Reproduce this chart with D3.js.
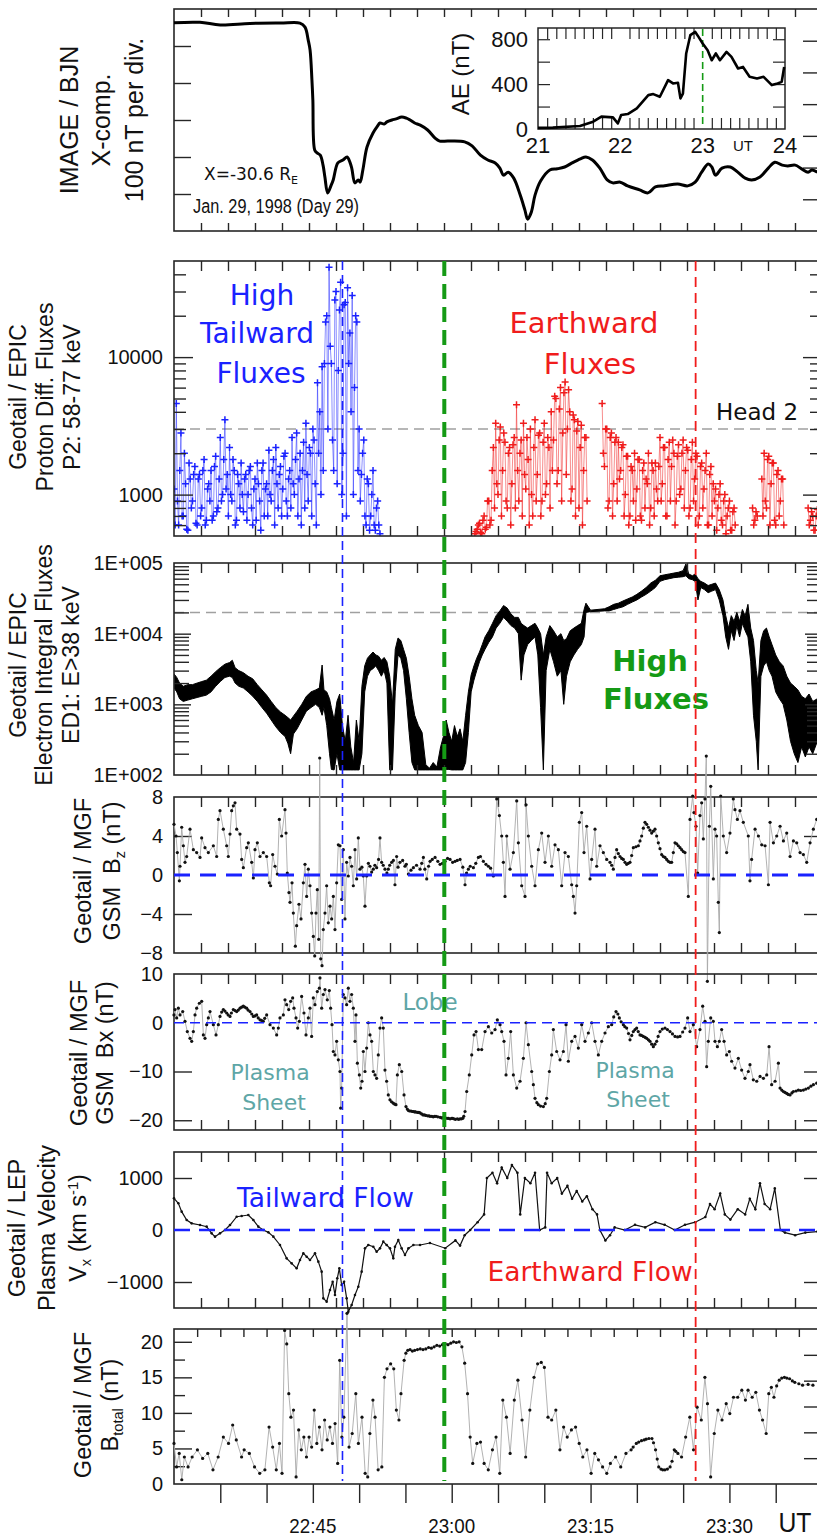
<!DOCTYPE html>
<html>
<head>
<meta charset="utf-8">
<script src="https://cdn.jsdelivr.net/npm/d3@7/dist/d3.min.js"></script>
<style>
  body { margin: 0; background: #fff; }
  svg { display: block; background: #fff; }
</style>
</head>
<body>
<svg id="fig" width="817" height="1538"></svg>
<script>
// ---------------- time axis (minutes after 22:30 UT, 29 Jan 1998) ----------------
const timeDomain = [0, 70];
const timeLabelMinutes = [15, 30, 45, 60];
const timeLabels = ["22:45", "23:00", "23:15", "23:30"];
const eventTimes = [18.2, 29.2, 56.35];   // tailward / lobe / earthward markers

// ---------------- IMAGE / BJN X component (nT, relative) ----------------
const bjnX = [[0,-37],[2.8,-36],[5.0,-43],[8.2,-39],[11.5,-38],[13.6,-38],[14.15,-49],[14.5,-84],[14.7,-111],[14.9,-192],[15.0,-246],[15.2,-381],[15.45,-389],[15.8,-395],[16.1,-422],[16.3,-454],[16.6,-497],[16.95,-478],[17.2,-462],[17.7,-416],[18.25,-408],[18.7,-400],[19.0,-414],[19.2,-430],[19.55,-470],[19.9,-462],[20.1,-468],[20.4,-435],[20.85,-373],[21.5,-335],[22.0,-316],[22.25,-308],[22.7,-311],[23.0,-305],[23.55,-300],[24.0,-297],[24.6,-292],[25.1,-295],[25.5,-300],[26.0,-308],[26.6,-314],[27.4,-327],[28.2,-349],[28.7,-357],[29.6,-357],[31.4,-359],[32.2,-370],[33.1,-395],[33.9,-408],[34.7,-416],[35.2,-430],[35.6,-449],[36.1,-441],[36.7,-457],[37.4,-503],[37.9,-543],[38.2,-568],[38.6,-549],[39.0,-503],[39.6,-465],[40.6,-435],[41.4,-432],[42.2,-427],[43.0,-416],[43.9,-405],[44.5,-400],[45.2,-408],[46.0,-430],[46.8,-462],[47.4,-470],[48.2,-468],[49.0,-478],[50.3,-489],[51.2,-497],[52.0,-481],[53.0,-478],[54.4,-473],[55.5,-478],[56.3,-468],[57.0,-441],[57.7,-419],[58.1,-427],[58.5,-449],[59.2,-430],[60.1,-427],[60.9,-441],[61.7,-457],[62.4,-462],[63.3,-454],[64.2,-430],[64.9,-414],[65.7,-422],[66.3,-424],[67.1,-422],[67.8,-432],[68.5,-441],[68.9,-435],[69.5,-441]];

// ---------------- AE index (hour UT, nT) ----------------
const aeIndex = [[21.0,10],[21.18,12],[21.51,27],[21.67,65],[21.77,110],[21.91,104],[21.97,50],[22.01,124],[22.09,133],[22.20,184],[22.34,302],[22.40,311],[22.48,287],[22.58,436],[22.64,406],[22.70,412],[22.73,273],[22.76,316],[22.80,673],[22.85,836],[22.91,865],[22.95,821],[23.00,762],[23.06,702],[23.11,613],[23.16,673],[23.21,613],[23.29,687],[23.35,643],[23.43,539],[23.49,553],[23.57,465],[23.66,450],[23.74,465],[23.84,391],[23.91,406],[23.96,420],[23.99,553]];
const aeTicks = [0, 400, 800];
const aeHourLabels = [21, 22, 23, 24];

// ---------------- EPIC P2 proton fluxes, 7.5-s samples ----------------
const p2TailwardStart = 0;
const p2EarthwardStart = 32.5;
const p2Step = 0.125;
const p2Tailward = [
  1100,600,4600,900,600,1500,2800,700,700,2000,1200,560,550,1700,1300,800,
  900,1400,1600,620,600,1300,1400,700,800,1500,1800,600,650,1100,1200,900,
  1500,650,700,1600,1900,750,800,1300,2600,900,1000,1800,3500,1100,1400,700,
  2200,1000,900,1800,1500,600,650,1400,1200,800,1700,1000,750,1300,1400,650,
  1000,1500,1600,800,600,1100,1300,650,1700,1200,900,550,1500,1700,700,1100,
  1200,700,2100,1000,900,1500,1800,600,2200,1200,800,1400,1600,700,1100,1900,
  2000,900,700,1300,1500,800,2600,1200,1000,1800,2800,700,1300,2000,600,1500,
  2400,800,3300,1400,900,2200,2000,700,3000,2500,1200,600,6500,2000,4000,1000,
  8500,1500,9000,18000,20000,3000,45000,12000,9000,2500,1500,26000,30000,1200,8000,22000,
  35000,1000,2000,24000,25000,700,32000,9000,15000,4000,28000,1000,6000,20000,18000,1500,
  3000,900,1400,2000,2500,700,600,1300,1200,550,700,1000,1500,600,550,800,
  900,600,520];
const p2Earthward = [
  520,540,560,600,620,530,520,650,700,560,580,900,900,600,650,1500,
  2200,800,3300,1200,1000,2500,3100,700,1500,2800,2400,900,800,2000,2200,600,
  1200,2300,2600,800,4500,1500,900,2000,2500,700,3300,1400,1100,2600,1800,600,
  3000,1000,700,2200,3500,900,1400,2700,2800,700,900,2400,3300,1000,1200,2600,
  2200,800,4000,1500,2500,5200,5000,1200,1500,4200,6000,900,2800,5500,6600,1400,
  3000,5800,4000,900,1100,3800,3500,700,2900,3400,800,2200,3200,600,1500,2600,
  2600,900,null,null,null,null,null,null,null,null,null,null,null,null,4600,2000,
  1600,3000,3000,800,900,2600,2800,700,1200,2400,2600,900,2400,1300,1500,2200,
  2300,700,1000,1900,1900,600,700,1600,1500,900,2000,650,1100,1800,1800,700,
  650,1500,1700,800,1300,1200,2000,600,800,1700,1500,700,1700,1100,900,1600,
  2600,900,1200,2200,2200,700,700,1800,2400,900,1600,2500,2000,600,900,1900,
  2300,1000,1100,2000,2500,800,1500,2200,2100,700,800,1800,2400,900,1300,2000,
  1900,600,700,1600,1700,800,1100,1500,2000,600,600,1400,1600,700,1200,900,
  1100,550,800,1000,1200,650,600,900,1000,520,700,800,900,550,550,750,
  800,600,null,null,null,null,null,null,null,null,null,null,null,null,null,null,
  800,600,650,750,700,null,null,null,1300,700,2000,900,800,1800,1900,600,
  1200,1700,1700,650,600,1400,1500,700,900,1300,1300,600,null,null,null,null,
  null,null,null,null,null,null,null,null,null,null,null,null,null,null,null,null,
  800,600,650,750,700,550,550,700,780];
const p2Head2Level = 3000;
const p2MajorTicks = [1000, 10000];
const p2MinorTicks = [600,700,800,900,2000,3000,4000,5000,6000,7000,8000,9000,20000,30000,40000];

// ---------------- EPIC ED1 electron integral flux: [t, min, max] ----------------
const ed1Range = [[0,1700,2700],[0.3,1500,2400],[0.6,1200,2000],[1.0,1100,1800],[1.5,1150,1900],[2.0,1200,1900],[2.5,1250,2000],[3.0,1300,2100],[3.5,1350,2200],[4.0,1500,2500],[4.5,1800,2900],[5.0,2100,3300],[5.5,2400,3700],[6.0,2500,3900],[6.3,2400,4200],[6.6,2000,3300],[7.0,1800,3000],[7.5,1700,2800],[8.0,1500,2500],[8.5,1300,2300],[9.0,1100,1900],[9.5,900,1600],[10.0,750,1350],[10.5,600,1100],[11.0,480,900],[11.5,400,780],[12.0,350,700],[12.3,280,650],[12.6,200,600],[12.9,380,680],[13.3,450,800],[13.8,600,1000],[14.3,800,1300],[14.8,900,1500],[15.3,1000,1600],[15.7,900,1700],[16.0,700,3600],[16.2,900,1600],[16.5,500,1500],[16.8,200,1200],[17.0,120,900],[17.3,118,600],[17.6,200,1100],[17.9,118,1400],[18.2,118,500],[18.5,118,300],[18.8,118,700],[19.1,118,250],[19.4,118,150],[19.7,118,600],[20.0,118,300],[20.3,200,1800],[20.6,1500,3500],[20.9,2500,4500],[21.2,3000,5000],[21.5,3200,5500],[21.8,3500,5000],[22.1,3000,4800],[22.4,2500,4200],[22.7,3000,4600],[23.0,2000,4000],[23.3,118,2500],[23.6,118,1000],[23.9,1500,6000],[24.2,5000,8700],[24.5,4500,8000],[24.8,3000,6000],[25.1,1200,4500],[25.4,400,2500],[25.7,150,1200],[26.0,118,700],[26.4,118,500],[26.8,118,400],[27.2,118,140],[27.6,118,125],[28.0,118,150],[28.4,118,130],[28.8,118,250],[29.1,118,350],[29.4,120,600],[29.7,120,400],[30.0,118,300],[30.3,118,500],[30.6,118,350],[30.9,118,450],[31.2,118,300],[31.5,150,700],[31.8,400,1500],[32.1,1500,2600],[32.4,2200,3500],[32.7,3000,4500],[33.0,4000,5500],[33.3,5000,7000],[33.6,6000,9000],[34.0,7500,11000],[34.4,9000,14000],[34.8,12000,18000],[35.2,14000,21000],[35.6,17000,25000],[36.0,15000,23000],[36.4,13000,19000],[36.8,12000,17000],[37.2,10000,17000],[37.5,2200,14000],[37.8,5000,13000],[38.2,7000,12000],[38.6,8000,13000],[39.0,9000,14000],[39.3,5000,12000],[39.6,900,10000],[39.9,118,5000],[40.2,3000,9000],[40.6,6000,13000],[41.0,4000,11000],[41.4,2500,9000],[41.8,3000,10000],[42.1,1000,8000],[42.4,2500,8500],[42.8,4000,11000],[43.2,5000,12000],[43.6,6000,13000],[44.0,7000,14000],[44.3,9000,22000],[44.5,20000,27000],[45.0,20500,21500],[46.5,21000,22500],[47.0,21000,24000],[47.5,22000,26000],[48.0,23000,27000],[48.5,24000,29000],[49.0,26000,31000],[49.5,28000,33000],[50.0,30000,36000],[50.5,33000,40000],[51.0,36000,45000],[51.5,40000,52000],[52.0,45000,57000],[52.5,55000,66000],[53.0,58000,68000],[53.5,60000,70000],[54.0,62000,72000],[54.5,63000,74000],[55.0,64000,78000],[55.3,66000,97000],[55.6,60000,70000],[56.0,58000,66000],[56.3,55000,70000],[56.6,30000,60000],[56.9,45000,55000],[57.3,42000,52000],[57.7,38000,48000],[58.1,40000,50000],[58.5,42000,52000],[58.9,30000,42000],[59.3,18000,30000],[59.6,9000,18000],[59.9,6000,12000],[60.2,11000,18000],[60.5,8000,15000],[60.8,13000,20000],[61.1,9000,15000],[61.4,14000,22000],[61.7,11000,18000],[62.0,9000,26000],[62.3,4000,12000],[62.6,700,8000],[62.9,300,3000],[63.1,118,2000],[63.4,2500,8000],[63.7,3500,11000],[64.0,4000,12000],[64.3,3000,9000],[64.6,2500,7000],[65.0,1500,5000],[65.4,1200,4000],[65.8,1000,3500],[66.2,600,2500],[66.6,300,2000],[67.0,200,1800],[67.4,150,1600],[67.8,250,1300],[68.2,180,1200],[68.6,250,1400],[69.0,200,1100],[69.5,300,1200]];
const ed1Level = 20000;
const ed1Labels = ["1E+002", "1E+003", "1E+004", "1E+005"];

// ---------------- MGF Bz GSM (nT) ----------------
const bz = [[0,5.2],[0.22,4],[0.36,2.3],[0.58,-0.6],[0.65,0.9],[0.83,4.9],[1.01,3],[1.19,1.3],[1.37,1.9],[1.73,4.7],[2.09,2.6],[2.45,2.3],[2.81,1.8],[2.99,3.8],[3.35,2.8],[3.71,2.3],[4.25,3],[4.61,1.9],[4.79,5.7],[4.97,6.6],[5.33,4.7],[5.69,3],[5.87,1.9],[6.05,4.2],[6.23,6.6],[6.41,7.1],[6.59,7.4],[6.77,4.7],[7.13,4.2],[7.31,1.6],[7.49,0.75],[7.85,2.8],[8.03,3.3],[8.39,1.3],[8.57,-0.3],[8.75,2.6],[9.0,3.3],[9.29,1.9],[9.65,2.3],[10.01,1.9],[10.3,-0.8],[10.44,-1.1],[10.66,2.1],[10.91,0.9],[11.16,0.1],[11.38,5.7],[11.63,4],[11.99,6.7],[12.1,4.3],[12.24,0.2],[12.42,-1.8],[12.53,-2.8],[12.75,-0.8],[12.89,-3.9],[13.11,-7.3],[13.25,-5.2],[13.5,-3],[13.72,-4.5],[13.97,-0.8],[14.15,1.1],[14.33,-2.2],[14.51,0.6],[14.69,-1.1],[14.87,-3.9],[15.05,-6.3],[15.2,-8.3],[15.34,-3.9],[15.48,-1.5],[15.63,-6.6],[15.74,12],[15.85,-8.6],[15.99,-9.3],[16.13,-5.6],[16.31,-3.9],[16.49,-1.1],[16.67,-4.9],[16.85,-3.2],[17.03,-4.5],[17.21,-2.2],[17.39,-5.6],[17.57,-0.8],[17.75,3.1],[17.93,3],[18.11,-2.5],[18.29,2.6],[18.47,-4.5],[18.65,1.3],[18.83,-0.1],[19.01,1.8],[19.19,0.9],[19.37,-1.1],[19.55,2.6],[19.73,-0.4],[19.91,3.8],[20.09,0.6],[20.3,0.8],[20.45,-0.1],[20.63,-3.2],[20.81,-0.1],[21.0,1.2],[21.17,0.9],[21.35,0.3],[21.53,0.6],[21.7,1.0],[21.89,0.75],[22.1,1.6],[22.25,3.8],[22.43,1.3],[22.6,1.0],[22.79,0.6],[23.0,0.2],[23.15,0.6],[23.3,1.0],[23.51,1.3],[23.7,1.5],[23.87,-1],[24.05,1.9],[24.2,0.8],[24.41,1.3],[24.7,1.5],[24.95,0.9],[25.1,1.1],[25.32,0.1],[25.6,0.5],[25.86,0.75],[26.2,1.0],[26.58,0.6],[26.76,1.2],[26.94,1.8],[27.1,0.6],[27.3,-0.4],[27.5,0.9],[27.66,1.4],[27.9,1.6],[28.2,1.8],[28.5,1.4],[28.74,1.1],[29.0,1.2],[29.28,1.4],[29.55,1.7],[29.82,1.6],[30.1,1.3],[30.36,1.4],[30.6,1.5],[30.9,1.6],[31.2,0.8],[31.44,-1],[31.6,0.2],[31.8,0.6],[32.0,0.9],[32.34,0.75],[32.6,1.2],[32.88,1.8],[33.1,1.9],[33.42,1.4],[33.7,1.1],[33.96,0.9],[34.2,0.7],[34.5,-0.1],[34.86,7.8],[35.15,6.1],[35.4,4],[35.58,1.3],[35.76,-2.2],[35.94,4],[36.3,0.6],[36.66,2.3],[37.02,7.6],[37.2,3.3],[37.56,-1.1],[37.92,-2.2],[38.03,7.2],[38.28,4],[38.64,0.9],[39.0,-1.1],[39.36,2.6],[39.72,4.3],[40.08,1.3],[40.44,4],[40.8,0.9],[41.16,3.1],[41.52,2.6],[41.88,-1.1],[42.24,2.3],[42.6,1.9],[42.96,-1],[43.14,-2.2],[43.32,-3.9],[43.5,-1.1],[43.79,5.4],[44.04,6.4],[44.29,2.3],[44.58,5],[44.94,-0.4],[45.12,1.6],[45.48,4.7],[45.66,0.9],[46.02,3],[46.38,2.3],[46.74,1.6],[47.1,1.3],[47.28,1.0],[47.46,0.6],[47.64,1.8],[47.82,2.6],[48.0,2.2],[48.18,1.9],[48.36,1.7],[48.54,1.6],[48.72,1.3],[48.9,1.1],[49.08,1.2],[49.26,1.3],[49.44,2.0],[49.62,2.8],[49.9,2.9],[50.16,3],[50.34,3.5],[50.52,4],[50.7,4.8],[50.88,5.4],[51.06,5.2],[51.24,4.9],[51.42,4.6],[51.6,4.3],[51.78,4.5],[51.96,4.7],[52.14,4.0],[52.32,3.3],[52.5,2.7],[52.68,2.1],[52.86,1.9],[53.04,1.8],[53.22,1.6],[53.4,1.4],[53.58,1.3],[53.76,1.3],[53.94,2.3],[54.12,3.3],[54.3,3.2],[54.48,3],[54.66,2.8],[54.84,2.6],[55.02,2.4],[55.2,2.3],[55.56,-2.2],[55.74,5.7],[56.03,8.1],[56.17,6.4],[56.39,5],[56.57,0.2],[56.82,6.1],[57.0,7.4],[57.18,3.7],[57.36,7.8],[57.5,12.2],[57.62,-10.9],[57.83,5],[57.98,9.1],[58.26,-0.4],[58.44,4.7],[58.62,4],[58.8,-2.8],[58.91,-5.9],[59.06,8.1],[59.34,4],[59.7,2.3],[60.06,4.3],[60.42,7.8],[60.6,6.7],[60.86,5.7],[61.14,6.6],[61.5,5.4],[62.04,4],[62.22,-0.6],[62.4,1.6],[62.77,4.7],[63.13,4],[63.49,3.1],[63.85,3],[64.21,-1],[64.39,5.4],[64.75,3.3],[65.11,4],[65.47,5],[65.83,3.5],[66.19,4.3],[66.55,1.9],[66.91,3.5],[67.27,3.3],[67.63,2.3],[67.99,2.1],[68.35,1.3],[68.71,3.3],[69.07,4.7],[69.43,5.7]];

// ---------------- MGF Bx GSM (nT) ----------------
const bx = [[0,1.6],[0.11,2.7],[0.29,1],[0.47,3],[0.65,1.6],[0.94,2.3],[1.19,0.3],[1.44,-1.8],[1.73,-3.2],[1.91,-3.8],[2.09,-1.8],[2.27,1.6],[2.45,3],[2.74,4],[2.99,4.4],[3.17,-2.5],[3.35,-3.2],[3.53,-0.4],[3.71,1],[3.89,2.3],[4.25,-0.4],[4.54,-2.5],[4.79,-0.4],[4.97,1.3],[5.15,2.2],[5.33,2.7],[5.5,2.4],[5.69,2],[5.85,1.6],[6.05,1.3],[6.2,2.0],[6.41,2.7],[6.6,2.5],[6.77,2.3],[6.95,2.6],[7.13,3],[7.3,3.2],[7.49,3.4],[7.65,3.2],[7.85,3],[8.0,2.6],[8.21,2.3],[8.4,1.8],[8.57,1.3],[8.75,1.4],[8.93,1.6],[9.1,1.0],[9.29,0.6],[9.45,0.5],[9.65,0.3],[9.8,0.9],[10.01,1.6],[10.37,-0.4],[10.73,-1.1],[11.09,-2.5],[11.27,-1.1],[11.45,1],[11.81,1.6],[11.99,4.7],[12.17,3.7],[12.39,2.7],[12.6,4.4],[12.82,5.1],[12.96,3],[13.18,1],[13.36,-1.1],[13.54,0.3],[13.79,5.4],[14.04,2],[14.26,-2.5],[14.51,1],[14.69,3],[14.87,-2.8],[15.05,5.1],[15.23,3.7],[15.48,6.4],[15.7,7.1],[15.77,9.2],[15.95,3],[16.13,5.8],[16.31,6.8],[16.56,4.7],[16.78,6.6],[16.92,3],[17.07,-0.4],[17.21,-5.9],[17.39,-6.6],[17.57,-3.8],[17.75,-7.6],[17.93,-10],[18.0,-17.5],[18.11,-13.4],[18.29,5.8],[18.47,5.1],[18.65,3.7],[18.83,7.1],[19.01,4.4],[19.19,5.8],[19.37,3],[19.55,-3.8],[19.66,1.6],[19.81,-8.3],[20.02,-10.7],[20.17,-13.4],[20.31,-12],[20.45,-5.9],[20.63,-10],[20.81,-5.2],[20.99,0],[21.17,-2.5],[21.35,-3.8],[21.53,-10],[21.71,-10.7],[21.89,-11.4],[22.07,-6.6],[22.25,-1.1],[22.43,1],[22.61,-1.1],[22.79,-9.7],[22.97,-12],[23.15,-14.8],[23.33,-15.8],[23.5,-16.2],[23.69,-16.5],[23.85,-16.7],[23.98,-16.8],[24.13,-10.7],[24.34,-8.6],[24.6,-10],[24.85,-14.8],[25.06,-17.2],[25.2,-17.7],[25.32,-18],[25.45,-18.1],[25.6,-18.1],[25.75,-18.2],[25.86,-18.2],[26.0,-18.3],[26.1,-18.3],[26.3,-18.4],[26.45,-18.4],[26.58,-18.5],[26.75,-18.7],[26.9,-18.9],[27.05,-18.9],[27.2,-19.0],[27.4,-19.1],[27.55,-19.1],[27.66,-19.2],[27.85,-19.2],[28.0,-19.3],[28.15,-19.2],[28.3,-19.2],[28.5,-19.3],[28.74,-19.4],[28.9,-19.5],[29.0,-19.5],[29.15,-19.4],[29.3,-19.5],[29.5,-19.6],[29.65,-19.6],[29.82,-19.7],[30.0,-19.6],[30.1,-19.6],[30.25,-19.7],[30.4,-19.8],[30.6,-19.7],[30.75,-19.8],[30.9,-19.7],[31.05,-19.7],[31.2,-19.6],[31.3,-19.2],[31.44,-18.2],[31.62,-14.1],[31.9,-10.7],[32.16,-6.6],[32.41,-2.5],[32.63,-1.8],[32.88,-5.5],[33.24,-5.5],[33.6,-1.8],[33.96,-0.8],[34.32,-2.1],[34.68,-1.4],[34.93,0.6],[35.22,-0.4],[35.4,-1.8],[35.65,-3.8],[35.87,-10.7],[36.12,-7.3],[36.37,-1.8],[36.66,-10.7],[37.02,-13.4],[37.38,-12],[37.74,-7.3],[38.03,0],[38.28,-4.5],[38.64,-10],[38.82,-12.7],[39.0,-15.5],[39.2,-16.4],[39.36,-16.8],[39.6,-17.1],[39.9,-17.2],[40.1,-16.6],[40.26,-15.5],[40.55,-10],[40.8,-6.6],[40.98,-1.4],[41.34,-5.9],[41.7,-7.6],[42.06,-5.9],[42.35,-0.4],[42.6,-7.9],[42.96,-3.8],[43.32,-2.8],[43.68,-5.2],[44.04,-0.4],[44.4,-3.8],[44.76,-2.1],[45.12,0],[45.48,-3.8],[45.84,-6.6],[46.2,-3.8],[46.56,-2.1],[46.92,-0.8],[47.28,-0.4],[47.5,1.2],[47.75,2.3],[47.95,1.8],[48.11,1],[48.3,0.2],[48.54,-0.4],[48.7,-0.8],[48.9,-1.1],[49.1,-2.2],[49.26,-3.5],[49.45,-2.6],[49.62,-1.8],[49.8,-1.4],[49.98,-1.1],[50.15,-1.8],[50.34,-2.5],[50.5,-2.6],[50.7,-2.8],[50.9,-3.0],[51.06,-3.2],[51.25,-3.5],[51.42,-3.8],[51.6,-4.4],[51.78,-4.9],[51.95,-4.4],[52.14,-3.8],[52.3,-2.8],[52.5,-1.8],[52.75,-1.3],[53.04,-1.1],[53.3,-1.4],[53.58,-1.8],[53.85,-2.3],[54.12,-2.8],[54.4,-2.9],[54.66,-2.8],[54.95,-1.9],[55.2,-1.1],[55.49,1],[55.74,-1.8],[56.1,-0.4],[56.46,-4.9],[56.82,-1.4],[57.11,3.4],[57.36,0.3],[57.54,-9],[57.72,-3.8],[57.98,1],[58.26,0.3],[58.44,-3.8],[58.7,-4.9],[58.91,-3.8],[59.16,-1.4],[59.42,-3.8],[59.7,-6.6],[59.99,-5.9],[60.24,-7.9],[60.6,-9.3],[60.96,-7.3],[61.32,-9.7],[61.68,-11.4],[62.04,-10],[62.22,-8.6],[62.58,-11.7],[62.95,-12],[63.31,-11],[63.67,-11.4],[64.03,-10.7],[64.28,-4.9],[64.56,-12.7],[64.93,-12],[65.29,-8.3],[65.47,-13.4],[65.65,-13.8],[65.83,-14.1],[66.0,-14.3],[66.19,-14.5],[66.35,-14.7],[66.55,-14.8],[66.75,-14.4],[66.91,-14.1],[67.2,-14.0],[67.45,-13.8],[67.7,-13.9],[67.99,-13.8],[68.25,-13.6],[68.53,-13.4],[68.8,-13.0],[69.07,-12.7],[69.43,-12.4]];

// ---------------- LEP plasma velocity Vx (km/s) ----------------
const vx = [[0,609],[0.47,513],[0.83,353],[1.37,192],[1.91,128],[2.81,96],[3.53,64],[4.07,-64],[4.43,-128],[4.97,-64],[5.51,0],[6.05,96],[6.77,256],[7.31,269],[8.03,288],[8.57,192],[9.11,64],[9.65,0],[10.19,-45],[10.73,-128],[11.45,-288],[12.17,-545],[12.71,-641],[13.25,-737],[13.61,-577],[13.97,-449],[14.33,-513],[14.69,-577],[15.23,-449],[15.59,-609],[15.95,-801],[16.13,-1314],[16.49,-1378],[16.85,-1154],[17.14,-994],[17.39,-1250],[17.64,-929],[17.86,-737],[18.11,-1058],[18.37,-994],[18.65,-1314],[18.83,-1571],[19.19,-1442],[19.55,-1250],[19.91,-1090],[20.27,-801],[20.63,-353],[20.99,-288],[21.53,-321],[21.89,-417],[22.25,-353],[22.61,-224],[22.97,-288],[23.33,-353],[23.69,-545],[23.87,-321],[24.23,-192],[24.59,-353],[24.95,-481],[25.32,-353],[25.86,-288],[26.58,-288],[27.65,-250],[29.3,-350],[30.4,-200],[30.9,-300],[31.4,-100],[32.0,0],[32.8,150],[33.5,300],[33.8,1000],[34.4,1100],[34.9,900],[35.4,1200],[36.0,1000],[36.5,1250],[37.1,1100],[37.4,300],[37.9,1000],[38.5,900],[39.0,1100],[39.5,0],[40.1,50],[40.3,1100],[40.8,900],[41.4,1000],[41.9,700],[42.5,850],[43.0,600],[43.5,750],[44.1,550],[44.6,650],[45.2,400],[45.7,300],[46.0,0],[46.6,-200],[47.1,-100],[47.6,50],[48.7,0],[49.8,100],[50.9,50],[52.0,150],[53.0,100],[54.1,0],[55.2,100],[56.3,150],[57.4,250],[57.9,500],[58.4,400],[59.0,700],[59.5,300],[60.1,200],[60.9,400],[61.7,300],[62.2,600],[62.8,400],[63.3,900],[63.8,500],[64.4,400],[64.9,800],[65.5,0],[66.0,-50],[67.1,-100],[68.2,-50],[69.5,-30]];

// ---------------- MGF |B| (nT) ----------------
const btotal = [[0,5.7],[0.28,2.4],[0.56,4.3],[0.84,0.6],[1.12,3.8],[1.52,2.4],[1.96,3.8],[2.53,4.8],[3.09,3.6],[3.65,4.3],[4.21,2],[4.77,3.8],[5.33,6.6],[5.89,5.7],[6.34,8.3],[6.73,6.2],[7.3,3.8],[7.58,4.8],[8.14,4.3],[8.7,2.4],[9.26,1.5],[9.82,2],[10.27,8],[10.66,5.2],[11.05,2],[11.39,5.7],[11.67,1.5],[11.95,21.6],[12.18,19.7],[12.4,12.7],[12.63,9.4],[12.91,10.4],[13.19,1],[13.47,7.6],[13.75,4.8],[14.03,6.6],[14.31,3.8],[14.59,6.6],[14.87,5.2],[15.15,10.4],[15.43,5.7],[15.71,8],[15.99,4.8],[16.27,9],[16.55,6.2],[16.84,8],[17.12,5.7],[17.4,8.5],[17.68,2.9],[17.9,17.4],[18.13,6.6],[18.35,9.4],[18.69,24],[18.91,5.2],[19.25,7.1],[19.64,12.7],[19.92,5.7],[20.31,9.4],[20.65,1.5],[20.93,1],[21.16,7.1],[21.49,11.8],[21.72,9.4],[22.05,2],[22.45,2.4],[22.73,15],[23.01,16.2],[23.4,16.9],[23.74,16.2],[24.02,10.4],[24.3,9],[24.52,12.7],[24.86,17.4],[25.05,18.4],[25.25,18.8],[25.5,18.9],[25.75,18.7],[26.0,18.8],[26.3,18.9],[26.6,19.0],[26.9,18.9],[27.2,19.0],[27.5,19.2],[27.8,19.1],[28.1,19.3],[28.4,19.5],[28.7,19.4],[29.0,19.6],[29.3,19.7],[29.6,19.6],[29.9,19.8],[30.2,20.0],[30.5,19.9],[30.8,20.0],[31.1,19.3],[31.4,17],[31.71,12.7],[31.99,6.6],[32.27,2.9],[32.72,5.7],[33.11,5.9],[33.5,2.9],[33.95,2],[34.4,4.8],[34.79,6.6],[35.19,1.5],[35.52,11.8],[35.91,9.4],[36.31,4.3],[36.76,11.8],[37.15,14.6],[37.6,9],[37.99,3.8],[38.44,10.4],[38.89,15],[39.28,16.9],[39.67,17.1],[40.01,16.4],[40.4,9.4],[40.8,9],[41.25,10.4],[41.69,4.8],[42.09,8],[42.48,6.6],[42.93,7.6],[43.38,8],[43.77,5.7],[44.16,3.8],[44.61,4.8],[45.06,1.5],[45.45,4.3],[45.85,3.4],[46.3,2.4],[46.75,1.5],[47.14,2.9],[47.7,3.8],[48.26,2.4],[48.82,4.3],[49.38,4.8],[49.6,5.2],[49.94,5.7],[50.2,5.9],[50.5,6.1],[50.79,6.2],[51.0,6.3],[51.3,6.4],[51.63,6.4],[51.8,5.8],[52.02,4.8],[52.2,3.5],[52.36,2.4],[52.6,2.1],[52.8,2.0],[53.03,2],[53.3,2.1],[53.59,2.4],[53.8,3.2],[54.04,4.8],[54.2,4.6],[54.43,4.3],[54.83,3.8],[55.27,6.6],[55.72,9.4],[56.12,4.8],[56.51,10.8],[56.96,9],[57.35,15],[57.63,11.3],[57.97,1],[58.36,7.1],[58.75,10.4],[59.2,9],[59.65,11.3],[60.04,9.9],[60.44,12.2],[60.89,12.2],[61.34,13.2],[61.73,11.8],[62.01,13.2],[62.46,12.2],[62.85,12.9],[63.24,10.4],[63.58,9],[63.97,7.1],[64.25,12.7],[64.53,13.6],[64.81,12.2],[65.1,13.8],[65.38,14.6],[65.65,14.9],[65.94,15],[66.2,14.9],[66.5,14.8],[66.8,14.5],[67.06,14.3],[67.5,14.1],[67.9,13.9],[68.5,14.0],[69.02,13.9]];

// ====================================================================
const svg = d3.select("#fig");
const ink = "#262626";
const blue = "#1a22ff", red = "#f01c1c", green = "#159a15", teal = "#5ea6a6";
const sans = "'Liberation Sans', Arial, sans-serif";
const deja = "'DejaVu Sans', Verdana, sans-serif";

const x = d3.scaleLinear().domain(timeDomain).range([174, 822]);
const panelTicks = d3.range(1, 24).map(i => timeDomain[1] * i / 24);

const P = {
  bjn: { top: 9,    bottom: 231 },
  p2:  { top: 261,  bottom: 536 },
  ed1: { top: 563,  bottom: 775 },
  bz:  { top: 797,  bottom: 953 },
  bx:  { top: 974,  bottom: 1130 },
  vx:  { top: 1152, bottom: 1308 },
  bt:  { top: 1329, bottom: 1484 }
};

const yBjn  = d3.scaleLinear().domain([-600, 0]).range([P.bjn.bottom, P.bjn.top]);
const yBjnR = d3.scaleLinear().domain([0, 7]).range([P.bjn.bottom, P.bjn.top]);
const yP2   = d3.scaleLog().domain([500, 50000]).range([P.p2.bottom, P.p2.top]);
const yEd   = d3.scaleLog().domain([100, 1e5]).range([P.ed1.bottom, P.ed1.top]);
const yBz   = d3.scaleLinear().domain([-8, 8]).range([P.bz.bottom, P.bz.top]);
const yBx   = d3.scaleLinear().domain([-22, 10]).range([P.bx.bottom, P.bx.top]);
const yVx   = d3.scaleLinear().domain([-1500, 1500]).range([P.vx.bottom, P.vx.top]);
const yBt   = d3.scaleLinear().domain([0, 21.8]).range([P.bt.bottom, P.bt.top]);
const yBtR  = d3.scaleLinear().domain([0, 6]).range([P.bt.bottom, P.bt.top]);

// ---------- helpers ----------
function cleanAxis(g, width) {
  g.select(".domain").remove();
  g.selectAll("line").attr("stroke", ink).attr("stroke-width", width || 1.4);
  return g;
}
function timeTicks(p, values, size, where) {
  const axis = (where === "top" ? d3.axisTop(x) : d3.axisBottom(x))
    .tickValues(values).tickSize(size).tickFormat("");
  svg.append("g").attr("transform", `translate(0,${where === "top" ? p.top : p.bottom})`)
    .call(axis).call(g => cleanAxis(g));
}
function yTicks(scale, values, size, side) {
  const axis = (side === "left" ? d3.axisLeft(scale) : d3.axisRight(scale))
    .tickValues(values).tickSize(-size).tickFormat("");
  svg.append("g").attr("transform", `translate(${side === "left" ? x.range()[0] : x.range()[1]},0)`)
    .call(axis).call(g => cleanAxis(g));
}
function yLabels(scale, values, fmt, size) {
  const axis = d3.axisLeft(scale).tickValues(values).tickSize(0).tickPadding(11).tickFormat(fmt);
  svg.append("g").attr("transform", `translate(${x.range()[0]},0)`).call(axis)
    .call(g => g.select(".domain").remove())
    .selectAll("text").attr("font-family", sans).attr("font-size", size || 20).attr("fill", "#111");
}
function frame(p) {
  svg.append("rect").attr("x", x.range()[0]).attr("y", p.top)
    .attr("width", x.range()[1] - x.range()[0]).attr("height", p.bottom - p.top)
    .attr("fill", "none").attr("stroke", ink).attr("stroke-width", 1.6);
}
function clipFor(id, p) {
  svg.append("clipPath").attr("id", id).append("rect")
    .attr("x", x.range()[0]).attr("y", p.top)
    .attr("width", x.range()[1] - x.range()[0]).attr("height", p.bottom - p.top);
  return `url(#${id})`;
}
function hDashed(scale, v, color, width, dash) {
  svg.append("line").attr("x1", x.range()[0]).attr("x2", x.range()[1])
    .attr("y1", scale(v)).attr("y2", scale(v))
    .attr("stroke", color).attr("stroke-width", width).attr("stroke-dasharray", dash);
}
// rotated multi-line axis title; each line is an array of [text, shift] pieces
function yTitle(lines, xs, cy, size) {
  lines.forEach((pieces, i) => {
    const t = svg.append("text").attr("transform", `translate(${xs[i]},${cy}) rotate(-90)`)
      .attr("text-anchor", "middle").attr("dy", "0.36em")
      .attr("font-family", sans).attr("font-size", size).attr("fill", "#111");
    let shift = 0;
    pieces.forEach(([txt, s]) => {
      const ts = t.append("tspan").text(txt).attr("dy", (s || 0) - shift);
      if (s) ts.attr("font-size", size * 0.62);
      shift = s || 0;
    });
  });
}
function label(txt, cx, base, size, color, opts) {
  const t = svg.append("text").attr("x", cx).attr("y", base).text(txt)
    .attr("font-family", (opts && opts.family) || deja).attr("font-size", size).attr("fill", color)
    .attr("text-anchor", (opts && opts.anchor) || "middle");
  if (opts && opts.bold) t.attr("font-weight", "bold");
  if (opts && opts.len) t.attr("textLength", opts.len).attr("lengthAdjust", "spacingAndGlyphs");
  return t;
}
function dotSeries(data, y) {
  const pts = data.slice().sort((a, b) => a[0] - b[0]);
  svg.append("path").datum(pts)
    .attr("d", d3.line().x(d => x(d[0])).y(d => y(d[1])))
    .attr("fill", "none").attr("stroke", "#a9a9a9").attr("stroke-width", 0.9);
  svg.append("g").selectAll("circle").data(pts).join("circle")
    .attr("cx", d => x(d[0])).attr("cy", d => y(d[1])).attr("r", 1.6).attr("fill", "#111");
}

// ================= Panel 1: IMAGE / BJN =================
frame(P.bjn);
timeTicks(P.bjn, panelTicks, -8, "top");
timeTicks(P.bjn, panelTicks, -8, "bottom");
yTicks(yBjn, [-500, -400, -300, -200, -100], 17, "left");
yTicks(yBjnR, [1, 2, 3, 4, 5, 6], 19, "right");
svg.append("path").datum(bjnX)
  .attr("d", d3.line().x(d => x(d[0])).y(d => yBjn(d[1])).curve(d3.curveCatmullRom))
  .attr("fill", "none").attr("stroke", "#000").attr("stroke-width", 3).attr("stroke-linejoin", "round");
yTitle([[["IMAGE / BJN"]], [["X-comp."]], [["100 nT per div."]]], [78, 110, 143], 120, 25);
const posText = svg.append("text").attr("x", 204).attr("y", 180)
  .attr("font-family", deja).attr("font-size", 17).attr("fill", "#111");
posText.append("tspan").text("X=-30.6 R");
posText.append("tspan").text("E").attr("font-size", 11).attr("dy", 4);
label("Jan. 29, 1998 (Day 29)", 193, 213, 20, "#111", { anchor: "start", family: sans, len: 166 });

// ----- AE inset -----
const aeX = d3.scaleLinear().domain([21, 24]).range([538, 785]);
const aeY = d3.scaleLinear().domain([0, 900]).range([129, 28]);
svg.append("rect").attr("x", 538).attr("y", 28).attr("width", 247).attr("height", 101)
  .attr("fill", "#fff").attr("stroke", ink).attr("stroke-width", 1.5);
const aeMinor = d3.range(1, 27).map(i => 21 + i / 9).filter(h => Math.abs(h - Math.round(h)) > 1e-6);
svg.append("g").attr("transform", "translate(0,28)")
  .call(d3.axisTop(aeX).tickValues(aeMinor).tickSize(-11).tickFormat("")).call(g => cleanAxis(g, 1.2));
svg.append("g").attr("transform", "translate(0,129)")
  .call(d3.axisBottom(aeX).tickValues(aeMinor).tickSize(-11).tickFormat("")).call(g => cleanAxis(g, 1.2));
svg.append("g").attr("transform", "translate(538,0)")
  .call(d3.axisLeft(aeY).tickValues([200, 400, 600, 800]).tickSize(-12).tickFormat("")).call(g => cleanAxis(g, 1.2));
svg.append("g").attr("transform", "translate(785,0)")
  .call(d3.axisRight(aeY).tickValues([200, 400, 600, 800]).tickSize(-12).tickFormat("")).call(g => cleanAxis(g, 1.2));
svg.append("g").attr("transform", "translate(538,0)")
  .call(d3.axisLeft(aeY).tickValues(aeTicks).tickSize(0).tickPadding(10))
  .call(g => g.select(".domain").remove())
  .selectAll("text").attr("font-family", sans).attr("font-size", 22).attr("fill", "#111");
svg.append("g").selectAll("text").data(aeHourLabels).join("text")
  .attr("x", d => aeX(d)).attr("y", 153).attr("text-anchor", "middle")
  .attr("font-family", sans).attr("font-size", 22).attr("fill", "#111").text(d => d);
label("UT", 743, 151, 15, "#111", { family: sans });
svg.append("line").attr("x1", aeX(23)).attr("x2", aeX(23)).attr("y1", 29).attr("y2", 128)
  .attr("stroke", green).attr("stroke-width", 1.6).attr("stroke-dasharray", "7,4");
svg.append("path").datum(aeIndex)
  .attr("d", d3.line().x(d => aeX(d[0])).y(d => aeY(d[1])))
  .attr("fill", "none").attr("stroke", "#000").attr("stroke-width", 2.6).attr("stroke-linejoin", "round");
yTitle([[["AE (nT)"]]], [469], 74, 24);

// ================= Panel 2: EPIC P2 protons =================
hDashed(yP2, p2Head2Level, "#a0a0a0", 1.5, "10,6");
const clipP2 = clipFor("clipP2", P.p2);
function fluxSeries(values, start, color) {
  const pts = values.map((v, i) => [start + i * p2Step, v]);
  const g = svg.append("g").attr("clip-path", clipP2);
  g.append("path").datum(pts)
    .attr("d", d3.line().defined(d => d[1] != null).x(d => x(d[0])).y(d => yP2(d[1])))
    .attr("fill", "none").attr("stroke", color).attr("stroke-opacity", 0.5).attr("stroke-width", 1);
  g.selectAll("path.pt").data(pts.filter(d => d[1] != null)).join("path").attr("class", "pt")
    .attr("d", d => `M${x(d[0]) - 3.5},${yP2(d[1])}h7M${x(d[0])},${yP2(d[1]) - 3.5}v7`)
    .attr("stroke", color).attr("stroke-width", 1.5).attr("fill", "none");
}
fluxSeries(p2Tailward, p2TailwardStart, blue);
fluxSeries(p2Earthward, p2EarthwardStart, red);
frame(P.p2);
timeTicks(P.p2, panelTicks, -10, "top");
timeTicks(P.p2, panelTicks, -10, "bottom");
yTicks(yP2, p2MajorTicks, 19, "left");
yTicks(yP2, p2MinorTicks, 12, "left");
yTicks(yP2, p2MajorTicks, 19, "right");
yTicks(yP2, p2MinorTicks, 12, "right");
yLabels(yP2, p2MajorTicks, d3.format("d"));
yTitle([[["Geotail / EPIC"]], [["Proton Diff. Fluxes"]], [["P2: 58-77 keV"]]], [26, 53, 80], 397, 23);
label("High", 262, 305, 28, blue);
label("Tailward", 257, 343, 28, blue);
label("Fluxes", 261, 383, 28, blue);
label("Earthward", 584, 333, 29, red);
label("Fluxes", 590, 374, 29, red);
label("Head 2", 757, 420, 23, "#111");

// ================= Panel 3: EPIC ED1 electrons =================
hDashed(yEd, ed1Level, "#a0a0a0", 1.5, "10,6");
const clipEd = clipFor("clipEd", P.ed1);
svg.append("path").datum(ed1Range).attr("clip-path", clipEd)
  .attr("d", d3.area().x(d => x(d[0])).y0(d => yEd(d[1])).y1(d => yEd(d[2])))
  .attr("fill", "#000").attr("stroke", "#000").attr("stroke-width", 1);
frame(P.ed1);
timeTicks(P.ed1, panelTicks, -10, "top");
timeTicks(P.ed1, panelTicks, -10, "bottom");
const edDecades = [100, 1000, 10000, 1e5];
const edMinor = d3.merge([100, 1000, 10000].map(dec => d3.range(2, 10).map(k => k * dec)));
yTicks(yEd, [1000, 10000], 17, "left");
yTicks(yEd, edMinor, 15, "left");
yTicks(yEd, [1000, 10000], 17, "right");
yTicks(yEd, edMinor, 15, "right");
yLabels(yEd, edDecades, (d, i) => ed1Labels[i]);
yTitle([[["Geotail / EPIC"]], [["Electron Integral Fluxes"]], [["ED1: E>38 keV"]]], [26, 52, 79], 665, 23);
label("High", 650, 671, 29, green, { bold: true });
label("Fluxes", 656, 709, 29, green, { bold: true });

// ================= Panel 4: Bz =================
frame(P.bz);
timeTicks(P.bz, panelTicks, -10, "top");
timeTicks(P.bz, panelTicks, -10, "bottom");
yTicks(yBz, [-4, 4], 18, "left");
yTicks(yBz, [-4, 4], 18, "right");
dotSeries(bz, yBz);
hDashed(yBz, 0, blue, 3, "16,10");
yLabels(yBz, [-8, -4, 0, 4, 8], d3.format("d"));
yTitle([[["Geotail / MGF"]], [["GSM\u00a0 B"], ["z", 5], [" (nT)"]]], [91, 120], 871, 23.5);

// ================= Panel 5: Bx =================
frame(P.bx);
timeTicks(P.bx, panelTicks, -10, "top");
timeTicks(P.bx, panelTicks, -10, "bottom");
yTicks(yBx, [-20, -10], 18, "left");
yTicks(yBx, [-20, -10], 18, "right");
dotSeries(bx, yBx);
hDashed(yBx, 0, blue, 1.5, "10,6");
yLabels(yBx, [-20, -10, 0, 10], d3.format("d"));
yTitle([[["Geotail / MGF"]], [["GSM\u00a0 Bx (nT)"]]], [87, 113], 1053, 23.5);
label("Lobe", 430, 1010, 23, teal);
label("Plasma", 270, 1080, 22, teal);
label("Sheet", 274, 1110, 22, teal);
label("Plasma", 635, 1078, 22, teal);
label("Sheet", 638, 1107, 22, teal);

// ================= Panel 6: Vx =================
frame(P.vx);
timeTicks(P.vx, panelTicks, -10, "top");
timeTicks(P.vx, panelTicks, -10, "bottom");
yTicks(yVx, [-1000, 1000], 18, "left");
yTicks(yVx, [-1000, 1000], 18, "right");
svg.append("path").datum(vx)
  .attr("d", d3.line().x(d => x(d[0])).y(d => yVx(d[1])))
  .attr("fill", "none").attr("stroke", "#111").attr("stroke-width", 1.2);
svg.append("g").selectAll("circle").data(vx).join("circle")
  .attr("cx", d => x(d[0])).attr("cy", d => yVx(d[1])).attr("r", 1.3).attr("fill", "#111");
hDashed(yVx, 0, blue, 2.6, "16,9");
yLabels(yVx, [-1000, 0, 1000], d3.format("d"));
yTitle([[["Geotail / LEP"]], [["Plasma Velocity"]], [["V"], ["x", 5], [" (km s"], ["-1", -8], [")"]]], [25, 55, 86], 1228, 23.5);
label("Tailward Flow", 237, 1207, 26.5, blue, { anchor: "start" });
label("Earthward Flow", 590, 1281, 26.5, red);

// ================= Panel 7: |B| =================
frame(P.bt);
timeTicks(P.bt, d3.range(2.5, 70, 2.5), -8, "top");
timeTicks(P.bt, d3.range(5, 70, 5), 19, "bottom");
yTicks(yBt, [5, 10, 15, 20], 18, "left");
yTicks(yBt, [2.5, 7.5, 12.5, 17.5], 11, "left");
yTicks(yBtR, [1, 2, 3, 4, 5], 18, "right");
dotSeries(btotal, yBt);
yLabels(yBt, [0, 5, 10, 15, 20], d3.format("d"));
yTitle([[["Geotail / MGF"]], [["B"], ["total", 5], [" (nT)"]]], [91, 118], 1405, 23.5);
svg.append("g").selectAll("text").data(timeLabelMinutes).join("text")
  .attr("x", d => x(d)).attr("y", 1533).attr("text-anchor", "middle")
  .attr("font-family", sans).attr("font-size", 21).attr("fill", "#111")
  .attr("textLength", 47).attr("lengthAdjust", "spacingAndGlyphs")
  .text((d, i) => timeLabels[i]);
label("UT", 795, 1532, 27, "#111", { family: sans, len: 33 });

// ================= event markers across the Geotail panels =================
const eventStyles = [
  { color: blue,  width: 1.6, dash: "9,5" },
  { color: green, width: 4,   dash: "15,8" },
  { color: red,   width: 1.8, dash: "10,6" }
];
svg.append("g").selectAll("line").data(eventTimes).join("line")
  .attr("x1", d => x(d)).attr("x2", d => x(d))
  .attr("y1", P.p2.top).attr("y2", P.bt.bottom - 3)
  .attr("stroke", (d, i) => eventStyles[i].color)
  .attr("stroke-width", (d, i) => eventStyles[i].width)
  .attr("stroke-dasharray", (d, i) => eventStyles[i].dash);
</script>
</body>
</html>
